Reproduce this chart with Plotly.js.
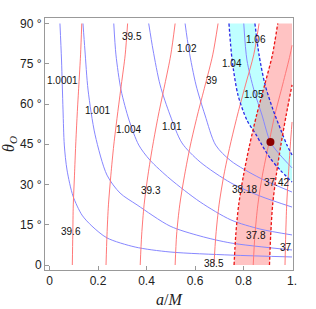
<!DOCTYPE html>
<html><head><meta charset="utf-8">
<script src="https://cdn.plot.ly/plotly-3.0.1.min.js"></script>
<style>html,body{margin:0;padding:0;background:#fff;}#chart{width:316px;height:309px;}</style>
</head><body><div id="chart"></div>
<script>
// ---- blue contours (axis ratio) ----
const b10001_x = [0.043,0.0495,0.0557,0.061,0.0722,0.0969,0.134,0.175,0.237,0.353,0.497,0.748,1.0];
const b10001_y = [90,76.4,57.8,44.7,35.4,25.7,18.6,14.5,10.1,6.7,4.85,3.7,3.0];
const b1001_x = [0.138,0.146,0.159,0.188,0.237,0.291,0.361,0.497,0.621,0.748,1.0];
const b1001_y = [90,80.1,65.2,48.5,33.5,26.8,22.4,14.5,10.8,8.2,5.6];
const b1004_x = [0.265,0.274,0.295,0.328,0.368,0.414,0.497,0.621,0.748,0.868,1.0];
const b1004_y = [90,78.3,65.2,54.0,44.7,39.1,32.1,23.5,16.8,13.4,11.2];
const b101_x = [0.409,0.427,0.456,0.497,0.546,0.621,0.748,0.868,1.0];
const b101_y = [90,80.1,67.1,55.9,45.5,38.4,30.6,25.7,21.6];
const b102_x = [0.559,0.575,0.604,0.641,0.685,0.748,0.868,1.0];
const b102_y = [90,80.1,67.1,55.9,44.7,38.8,32.4,27.2];
const b104_x = [0.740,0.753,0.777,0.814,0.852,0.876,0.909,0.951,1.0];
const b104_y = [90,76.4,63.4,54.0,48.5,44.7,39.9,35.4,30.9];
const b105_x = [0.801,0.814,0.843,0.876,0.911,0.951,1.0];
const b105_y = [90,76.4,65.2,55.9,45.8,41.0,36.2];
const b106_x = [0.847,0.864,0.889,0.922,0.954,0.979,1.0];
const b106_y = [90,78.3,67.1,57.8,50.3,44.7,41.0];
// ---- red contours (diameter) ----
const rY = [0,11.2,22.4,33.5,44.7,55.9,67.1,78.3,90];
const r396_x = [0.094,0.096,0.098,0.103,0.108,0.114,0.121,0.128,0.133];
const r395_x = [0.233,0.237,0.243,0.253,0.265,0.280,0.296,0.312,0.322];
const r393_x = [0.374,0.380,0.390,0.406,0.426,0.449,0.475,0.500,0.518];
const r39_x = [0.518,0.524,0.537,0.557,0.581,0.610,0.642,0.673,0.695];
const r385_x = [0.678,0.686,0.699,0.719,0.745,0.775,0.808,0.842,0.864];
const r3818_x = [0.761,0.768,0.780,0.800,0.825,0.854,0.887,0.919,0.941];
const r378_x = [0.840,0.847,0.859,0.878,0.903,0.929,0.961,0.992,1.0];
const r378_y = [0,11.2,22.4,33.5,44.7,55.9,67.1,78.3,81.9];
const r3742_x = [0.907,0.912,0.920,0.935,0.954,0.976,1.0];
const r3742_y = [0,11.2,22.4,33.5,44.7,55.9,67.1];
const r37_x = [0.971,0.974,0.978,0.985,0.993,1.0];
const r37_y = [0,11.2,22.4,33.5,44.7,53.3];
// best-fit point
const ptX = [0.911], ptY = [45.8];
// labels
const labText = ["1.0001","1.001","1.004","1.01","1.02","1.04","1.05","1.06",
  "39.6","39.5","39.3","39","38.5","38.18","37.8","37.42","37"];
const labX = [0.052,0.196,0.324,0.505,0.567,0.753,0.843,0.852,
  0.089,0.34,0.419,0.67,0.678,0.802,0.852,0.934,0.975];
const labY = [68.6,57.4,50.6,51.75,80.6,75,63.4,84,
  12.4,85.1,27.75,68.6,0.4,28.1,10.9,30.75,6.4];
const xTickVals = [0,0.2,0.4,0.6,0.8,1];
const xTickText = ["0","0.2","0.4","0.6","0.8","1."];
const yTickVals = [0,15,30,45,60,75,90];
const yTickText = ["0","15 °","30 °","45 °","60 °","75 °","90 °"];

const rev = a => a.slice().reverse();
const traces = [];
// cyan band 1.04..1.06
traces.push({x: b104_x.concat(rev(b106_x)), y: b104_y.concat(rev(b106_y)), mode:'lines', fill:'toself',
  fillcolor:'rgba(0,255,255,0.25)', line:{width:0}, hoverinfo:'skip'});
// pink band 38.18..37.42 clipped at a=1
traces.push({x: r3818_x.concat([1.0], rev(r3742_x)), y: rY.concat([90], rev(r3742_y)), mode:'lines', fill:'toself',
  fillcolor:'rgba(255,0,0,0.235)', line:{width:0}, hoverinfo:'skip'});
const blueC = 'rgb(135,135,255)', redC = 'rgb(255,120,120)';
[[b10001_x,b10001_y],[b1001_x,b1001_y],[b1004_x,b1004_y],[b101_x,b101_y],[b102_x,b102_y],[b105_x,b105_y]].forEach(p=>{
  traces.push({x:p[0], y:p[1], mode:'lines', line:{color:blueC, width:1, shape:'spline', smoothing:0.8}});
});
[[r396_x,rY],[r395_x,rY],[r393_x,rY],[r39_x,rY],[r385_x,rY],[r378_x,r378_y],[r37_x,r37_y]].forEach(p=>{
  traces.push({x:p[0], y:p[1], mode:'lines', line:{color:redC, width:1, shape:'spline', smoothing:0.8}});
});
[[b104_x,b104_y],[b106_x,b106_y]].forEach(p=>{
  traces.push({x:p[0], y:p[1], mode:'lines', line:{color:'rgb(40,40,230)', width:1.3, dash:'3px,2px', shape:'spline', smoothing:0.8}});
});
[[r3818_x,rY],[r3742_x,r3742_y]].forEach(p=>{
  traces.push({x:p[0], y:p[1], mode:'lines', line:{color:'rgb(235,20,20)', width:1.3, dash:'3px,2px', shape:'spline', smoothing:0.8}});
});
traces.push({x:ptX, y:ptY, mode:'markers', marker:{color:'rgb(140,0,0)', size:8}});

const annotations = labText.map((t,i)=>({x:labX[i], y:labY[i], xref:'x', yref:'y', text:t, showarrow:false,
  font:{family:'Liberation Sans, Arial, sans-serif', size:10, color:'#111'}}));

const layout = {
  width:316, height:309, showlegend:false,
  margin:{l:45, r:23, t:18, b:39},
  paper_bgcolor:'#fff', plot_bgcolor:'#fff',
  font:{family:'Liberation Sans, Arial, sans-serif', size:12, color:'#222'},
  xaxis:{range:[-0.0186,1.004], tickvals:xTickVals, ticktext:xTickText, ticks:'inside', ticklen:4, tickcolor:'#999',
    showgrid:false, zeroline:false, showline:true, linecolor:'#999', linewidth:1, mirror:true,
    title:{text:'<i>a</i>/<i>M</i>', font:{family:'Liberation Serif, Times New Roman, serif', size:16, color:'#222'}, standoff:6}},
  yaxis:{range:[-1.86,92.05], tickvals:yTickVals, ticktext:yTickText, ticks:'inside', ticklen:4, tickcolor:'#999',
    showgrid:false, zeroline:false, showline:true, linecolor:'#999', linewidth:1, mirror:true,
    title:{text:'<i>θ</i><sub><i>O</i></sub>', font:{family:'Liberation Serif, Times New Roman, serif', size:16, color:'#222'}, standoff:4}},
  annotations: annotations
};
Plotly.newPlot('chart', traces, layout, {displayModeBar:false, staticPlot:true});
</script></body></html>
